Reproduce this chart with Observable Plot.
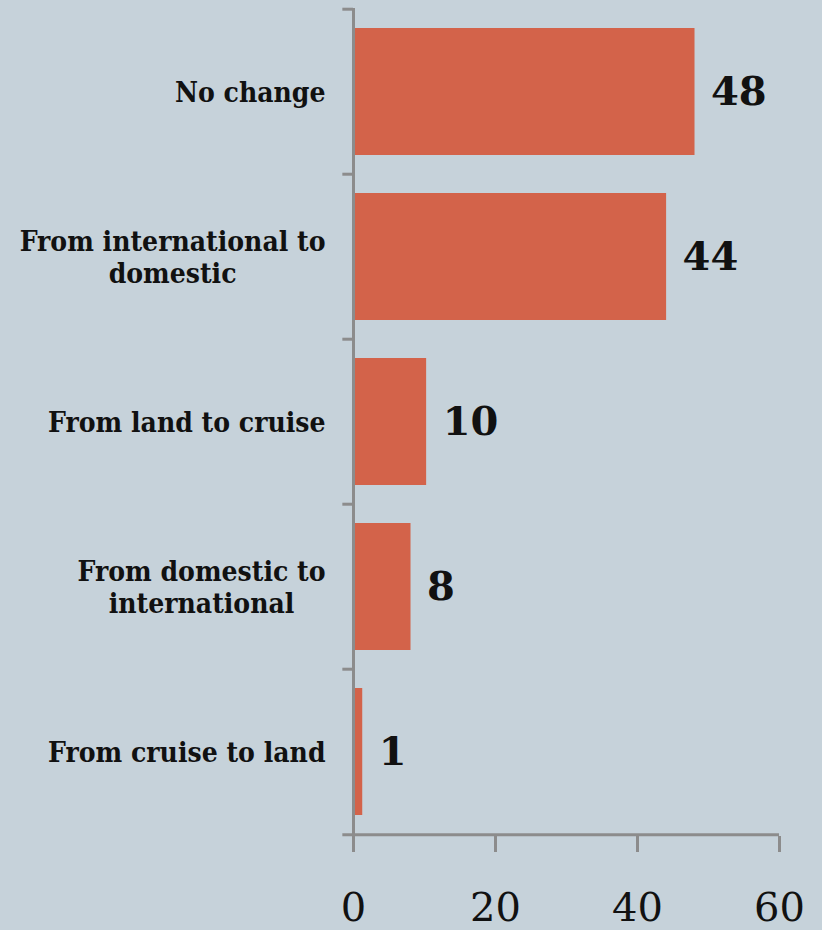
<!DOCTYPE html>
<html><head><meta charset="utf-8">
<script src="https://cdn.jsdelivr.net/npm/d3@7"></script>
<script src="https://cdn.jsdelivr.net/npm/@observablehq/plot@0.6"></script>
<style>html,body{margin:0;padding:0;background:#c6d2da;overflow:hidden;}</style>
</head><body><div id="chart"></div>
<script>
// ---- data ----
const categories = ["No change", "From international to domestic", "From land to cruise", "From domestic to international", "From cruise to land"];
const tickLabels = ["No change", "From international to\ndomestic", "From land to cruise", "From domestic to\ninternational", "From cruise to land"];
const values = [48.1, 44.1, 10.3, 8.1, 1.3];
const xTicks = [0, 20, 40, 60];

// ---- layout ----
const W = 822, H = 930, mt = 8, mb = 94, ml = 353, mr = 43;
const pi = 0.23, po = pi / 2;
const step = (H - mt - mb) / (categories.length - pi + 2 * po);
const axisColor = "#8c8c8c";
const bg = "#c6d2da";
const font = "DejaVu Serif";

const data = categories.map((c, i) => ({c, v: values[i]}));

const plot = Plot.plot({
  width: W, height: H,
  marginTop: mt, marginBottom: mb, marginLeft: ml, marginRight: mr,
  style: {background: bg, fontFamily: font, color: "#111", overflow: "visible"},
  x: {domain: [0, 60]},
  y: {domain: categories, paddingInner: pi, paddingOuter: po},
  marks: [
    Plot.barX(data, {x: "v", y: "c", fill: "#d3634a"}),
    Plot.ruleX([0], {stroke: axisColor, strokeWidth: 3}),
    Plot.ruleY(categories, {y: d => d, dy: -step / 2, x1: -1.5, x2: 0, stroke: axisColor, strokeWidth: 3}),
    Plot.ruleY(categories.slice(-1), {y: d => d, dy: step / 2, x1: -1.5, x2: 60, stroke: axisColor, strokeWidth: 3}),
    Plot.axisX({ticks: xTicks, tickSize: 16, tickPadding: 40, fontSize: 40, stroke: axisColor, strokeWidth: 3, fill: "#111", label: null, tickFormat: d => d}),
    Plot.axisY({tickSize: 0, tickPadding: 28, fontSize: 28, fontWeight: "bold", fontFamily: "DejaVu Serif Condensed", lineHeight: 1.15, fill: "#111", label: null,
      tickFormat: d => tickLabels[categories.indexOf(d)]}),
    Plot.text(data, {x: "v", y: "c", text: d => d3.format(".0f")(d.v), textAnchor: "start", dx: 16,
      fontSize: 40, fontWeight: "bold", fill: "#111"})
  ]
});
document.getElementById("chart").appendChild(plot);

// center the lines of multi-line category labels within their right-aligned block
plot.querySelectorAll('g[aria-label="y-axis tick label"] text').forEach(t => {
  const spans = t.querySelectorAll("tspan");
  if (spans.length > 1) {
    const b = t.getBBox();
    t.setAttribute("text-anchor", "middle");
    spans.forEach(s => s.setAttribute("x", b.x + b.width / 2));
  }
});
</script>
</body></html>
